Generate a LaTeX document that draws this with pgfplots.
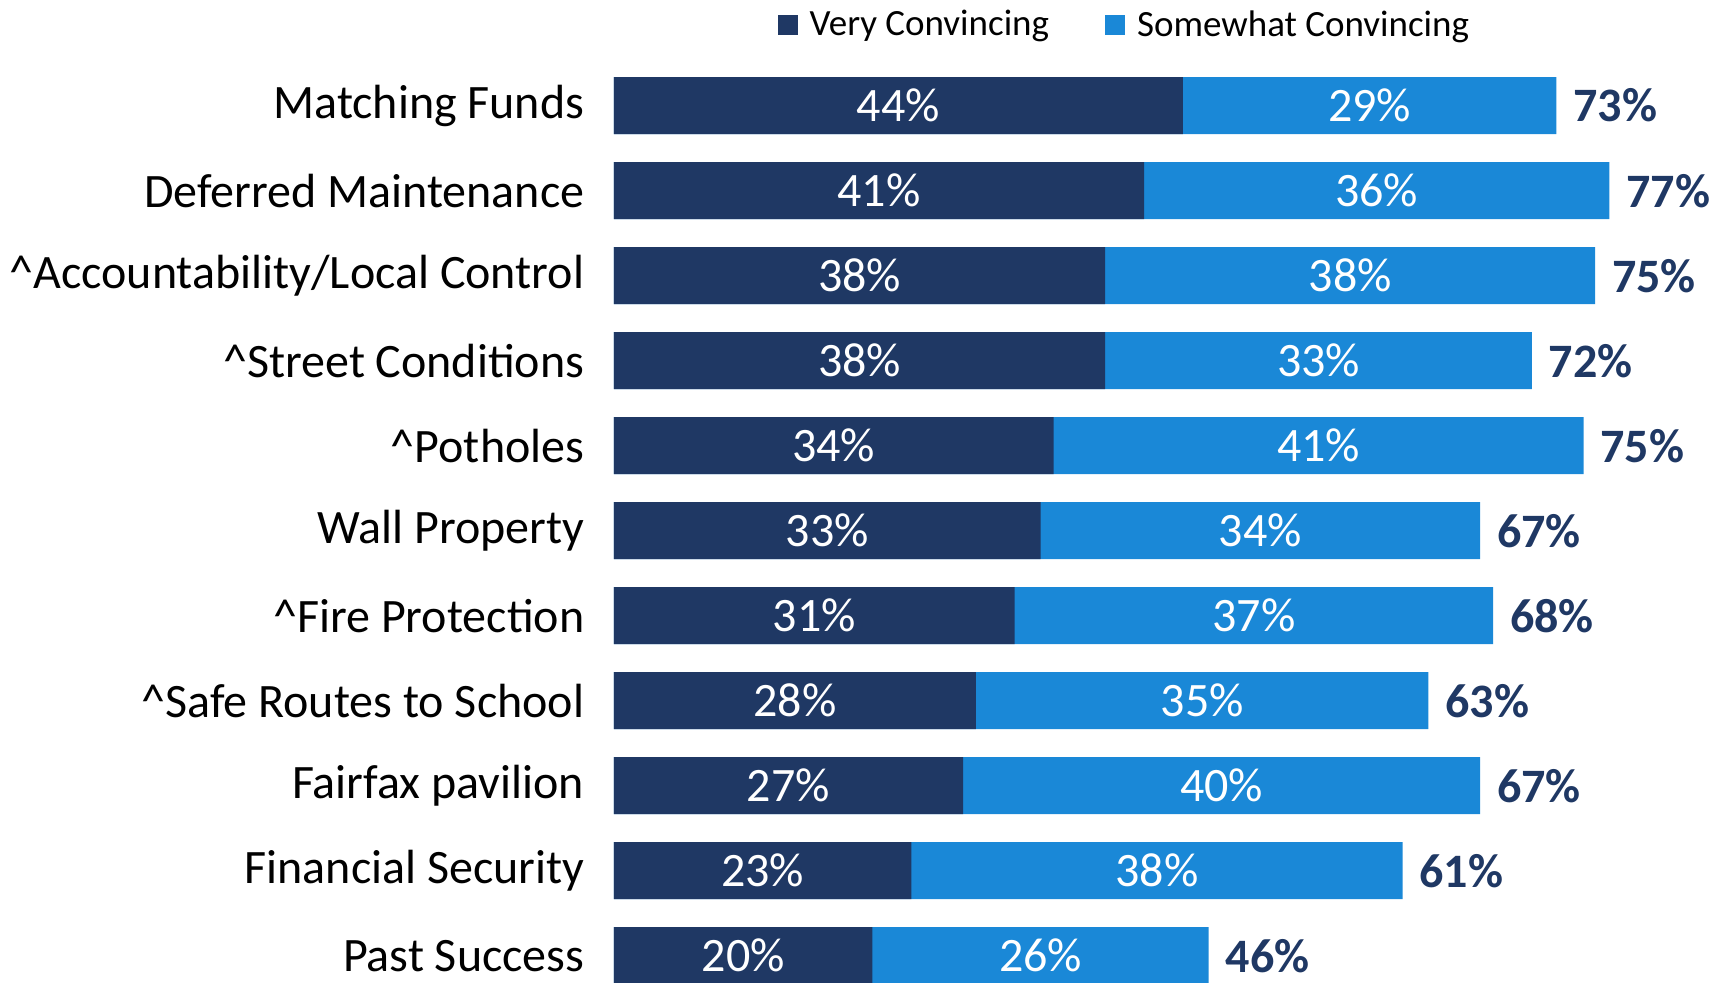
\documentclass[border=0pt]{standalone}
\usepackage{fontspec}
\setmainfont{Carlito}
\usepackage{pgfplots}
\usepackage{pgfplotstable}
\pgfplotsset{compat=1.18}
\usetikzlibrary{calc}
\definecolor{darkb}{HTML}{1F3864}
\definecolor{lightb}{HTML}{1A88D7}
\pgfplotstableread{
y d l dl ll tl
0 44 28.9 44 29 73
1 41 36 41 36 77
2 38 37.9 38 38 75
3 38 33 38 33 72
4 34 41 34 41 75
5 33 34 33 34 67
6 31 37 31 37 68
7 28 35 28 35 63
8 27 40 27 40 67
9 23 38 23 38 61
10 20 26 20 26 46
}\datatable
\begin{document}
\begin{tikzpicture}
\begin{axis}[
  scale only axis,
  width=556pt, height=491.5pt,
  xmin=0, xmax=86,
  y dir=reverse,
  ymin=-1.243, ymax=10.32,
  axis line style={draw=none},
  xtick=\empty,
  ytick={0,...,10},
  yticklabels={Matching Funds,Deferred Maintenance,\textasciicircum Accountability/Local Control,\textasciicircum Street Conditions,\textasciicircum Potholes,Wall Property,\textasciicircum Fire Protection,\textasciicircum Safe Routes to School,Fairfax pavilion,Financial Security,Past Success},
  major tick length=0pt,
  yticklabel style={font=\fontsize{24}{28}\selectfont, text=black, xshift=-11.3pt},
  bar width=28.5pt,
  reverse legend,
  legend style={at={(0.46,1)}, anchor=north, yshift=-1pt, draw=none, fill=none,
    legend columns=2, font=\fontsize{18.5}{22}\selectfont,
    /tikz/every odd column/.append style={column sep=4pt},
    /tikz/every even column/.append style={column sep=26pt}},
  legend image code/.code={\fill[#1] (0pt,-5pt) rectangle (10pt,5pt);},
]
\addplot[xbar, bar shift=0pt, fill=lightb, draw=none] table[x expr=\thisrow{d}+\thisrow{l}, y=y] {\datatable};
\addlegendentry{Somewhat Convincing}
\addplot[xbar, bar shift=0pt, fill=darkb, draw=none] table[x=d, y=y] {\datatable};
\addlegendentry{Very Convincing}
\addplot[forget plot, draw=none, mark=none, nodes near coords={\pgfplotspointmeta\%}, point meta=explicit symbolic,
  every node near coord/.append style={anchor=center, text=white, font=\fontsize{24}{28}\selectfont}]
  table[x expr=\thisrow{d}/2, y=y, meta=dl] {\datatable};
\addplot[forget plot, draw=none, mark=none, nodes near coords={\pgfplotspointmeta\%}, point meta=explicit symbolic,
  every node near coord/.append style={anchor=center, text=white, font=\fontsize{24}{28}\selectfont}]
  table[x expr=\thisrow{d}+\thisrow{l}/2, y=y, meta=ll] {\datatable};
\addplot[forget plot, draw=none, mark=none, nodes near coords={\pgfplotspointmeta\%}, point meta=explicit symbolic,
  every node near coord/.append style={anchor=west, xshift=5pt, text=darkb, font=\bfseries\fontsize{24}{28}\selectfont}]
  table[x expr=\thisrow{d}+\thisrow{l}, y=y, meta=tl] {\datatable};
\end{axis}
\path ($(current axis.south west)+(-307pt,0)$) rectangle (current axis.north east);
\end{tikzpicture}
\end{document}
